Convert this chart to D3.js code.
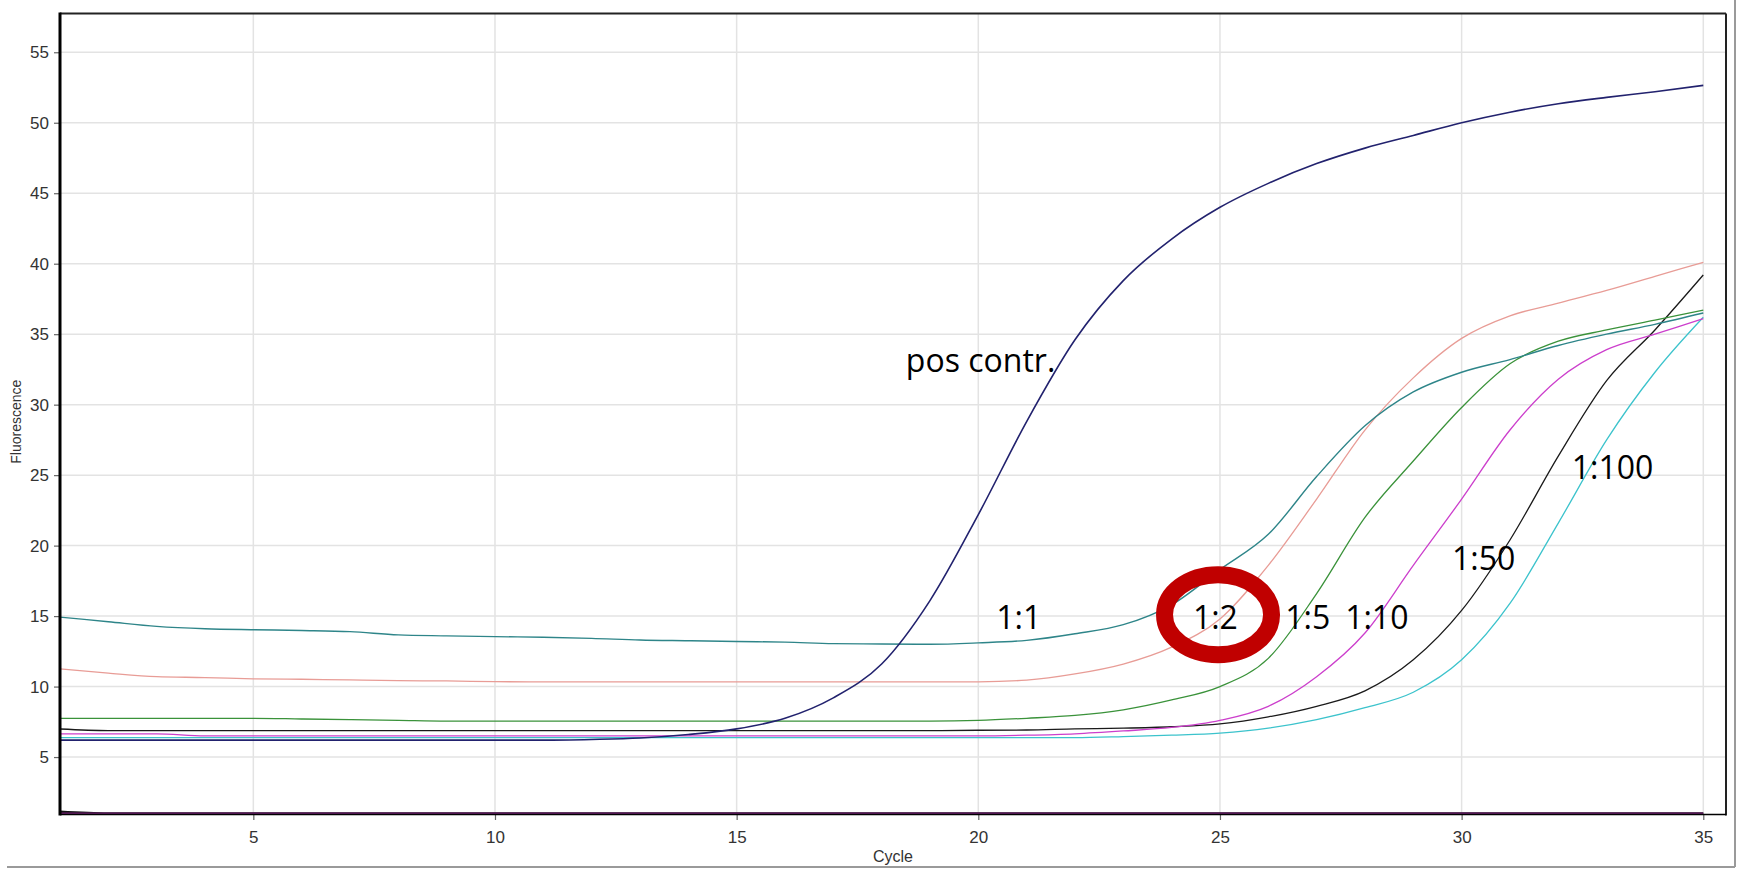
<!DOCTYPE html>
<html>
<head>
<meta charset="utf-8">
<script src="https://cdn.jsdelivr.net/npm/d3@7"></script>
<style>
  body { margin: 0; background: #ffffff; }
  svg { display: block; }
</style>
</head>
<body>
<svg class="chart" width="1739" height="869"></svg>
<script>
// qPCR amplification curves - dilution series

var cycles = [1,2,3,4,5,6,7,8,9,10,11,12,13,14,15,16,17,18,19,20,21,22,23,24,25,26,27,28,29,30,31,32,33,34,35];

var posContr = [6.2,6.2,6.2,6.2,6.2,6.2,6.2,6.2,6.2,6.2,6.2,6.25,6.35,6.6,7.0,7.75,9.2,11.6,16.1,22.2,28.8,34.6,38.8,41.75,44.0,45.7,47.1,48.2,49.1,50.0,50.75,51.35,51.8,52.2,52.65];
var dil1_1 = [14.93,14.6,14.27,14.1,14.03,13.98,13.9,13.67,13.6,13.54,13.5,13.42,13.3,13.25,13.2,13.15,13.05,13.02,13.0,13.1,13.28,13.75,14.39,15.8,18.3,20.8,24.9,28.5,30.9,32.3,33.2,34.2,35.0,35.7,36.5];
var dil1_2 = [11.26,10.95,10.7,10.64,10.55,10.52,10.47,10.42,10.4,10.35,10.33,10.33,10.33,10.33,10.33,10.33,10.33,10.33,10.33,10.34,10.46,10.9,11.6,12.8,14.8,18.6,23.3,28.2,31.9,34.7,36.3,37.2,38.1,39.1,40.1];
var dil1_5 = [7.75,7.75,7.75,7.75,7.75,7.7,7.65,7.6,7.55,7.55,7.55,7.55,7.55,7.55,7.55,7.55,7.55,7.55,7.55,7.6,7.75,7.95,8.35,9.05,10.0,12.0,16.6,22.0,26.0,29.8,32.9,34.5,35.3,36.0,36.7];
var dil1_10 = [6.64,6.64,6.64,6.5,6.5,6.5,6.5,6.5,6.5,6.5,6.5,6.5,6.5,6.5,6.5,6.5,6.5,6.5,6.5,6.5,6.55,6.65,6.85,7.1,7.6,8.6,10.7,13.8,18.6,23.3,28.2,31.8,33.9,35.0,36.1];
var dil1_50 = [6.99,6.88,6.88,6.88,6.88,6.88,6.88,6.88,6.88,6.88,6.88,6.88,6.88,6.88,6.88,6.88,6.88,6.88,6.88,6.9,6.92,7.0,7.05,7.15,7.35,7.85,8.6,9.7,11.9,15.4,20.4,26.35,31.7,35.3,39.2];
var dil1_100 = [6.38,6.38,6.38,6.38,6.38,6.38,6.38,6.38,6.38,6.38,6.38,6.38,6.38,6.38,6.38,6.38,6.38,6.38,6.38,6.38,6.38,6.38,6.45,6.55,6.7,7.05,7.65,8.5,9.6,11.9,15.9,21.6,27.5,32.3,36.2];
var negBlank = [1.12,1.0,1.0,1.0,1.0,1.0,1.0,1.0,1.0,1.0,1.0,1.0,1.0,1.0,1.0,1.0,1.0,1.0,1.0,1.0,1.0,1.0,1.0,1.0,1.0,1.0,1.0,1.0,1.0,1.0,1.0,1.0,1.0,1.0,1.0];
var negCtrl = [1.0,1.0,1.0,1.0,1.0,1.0,1.0,1.0,1.0,1.0,1.0,1.0,1.0,1.0,1.0,1.0,1.0,1.0,1.0,1.0,1.0,1.0,1.0,1.0,1.0,1.0,1.0,1.0,1.0,1.0,1.0,1.0,1.0,1.0,1.0];

var xTicks = [5, 10, 15, 20, 25, 30, 35];
var yTicks = [5, 10, 15, 20, 25, 30, 35, 40, 45, 50, 55];

// annotation text, anchored in (cycle, fluorescence)
var labelText = ["pos contr.", "1:1", "1:2", "1:5", "1:10", "1:50", "1:100"];
var labelCycle = [18.5, 20.37, 24.44, 26.35, 27.59, 29.8, 32.28];
var labelValue = [32.3, 14.08, 14.08, 14.08, 14.08, 18.28, 24.74];

var series = [
    { name: "neg blank", values: negBlank, color: "#111111", width: 2.5 },
    { name: "neg", values: negCtrl, color: "#6e1f6e", width: 2 },
    { name: "1:100", values: dil1_100, color: "#3cc3cc", width: 1.3 },
    { name: "1:50", values: dil1_50, color: "#1a1a1a", width: 1.3 },
    { name: "1:10", values: dil1_10, color: "#cc3fcc", width: 1.3 },
    { name: "1:5", values: dil1_5, color: "#3a923a", width: 1.3 },
    { name: "1:2", values: dil1_2, color: "#e89c96", width: 1.3 },
    { name: "1:1", values: dil1_1, color: "#2e8589", width: 1.4 },
    { name: "pos contr.", values: posContr, color: "#22226e", width: 1.6 }
];

var svg = d3.select(".chart");

var plot = { left: 60, right: 1726, top: 13.5, bottom: 814 };

var x = d3.scaleLinear()
    .domain([1, 35.47])
    .range([plot.left, plot.right]);

var y = d3.scaleLinear()
    .domain([0.96, 57.75])
    .range([plot.bottom, plot.top]);

// outer window frame (right + bottom)
svg.append("line")
    .attr("x1", 1735).attr("x2", 1735)
    .attr("y1", 0).attr("y2", 867)
    .attr("stroke", "#9a9a9a").attr("stroke-width", 2);
svg.append("line")
    .attr("x1", 7).attr("x2", 1735)
    .attr("y1", 867).attr("y2", 867)
    .attr("stroke", "#9a9a9a").attr("stroke-width", 2);

// grid
svg.selectAll(".grid-x")
    .data(xTicks)
    .enter().append("line")
    .attr("class", "grid-x")
    .attr("x1", d => x(d)).attr("x2", d => x(d))
    .attr("y1", plot.top).attr("y2", plot.bottom)
    .attr("stroke", "#e3e3e3")
    .attr("stroke-width", 1.5);

svg.selectAll(".grid-y")
    .data(yTicks)
    .enter().append("line")
    .attr("class", "grid-y")
    .attr("x1", plot.left).attr("x2", plot.right)
    .attr("y1", d => y(d)).attr("y2", d => y(d))
    .attr("stroke", "#e3e3e3")
    .attr("stroke-width", 1.5);

// axes
var yAxis = svg.append("g")
    .attr("transform", "translate(" + plot.left + ",0)")
    .call(d3.axisLeft(y).tickValues(yTicks).tickSize(6).tickPadding(5));

var xAxis = svg.append("g")
    .attr("transform", "translate(0," + plot.bottom + ")")
    .call(d3.axisBottom(x).tickValues(xTicks).tickSize(6).tickPadding(11));

[xAxis, yAxis].forEach(function (g) {
    g.select(".domain").remove();
    g.selectAll(".tick line").attr("stroke", "#666").attr("stroke-width", 1.2);
    g.selectAll(".tick text")
        .attr("fill", "#333")
        .attr("font-family", "'Liberation Sans', Arial, sans-serif")
        .attr("font-size", "17px");
});

svg.append("text")
    .attr("transform", "translate(21," + ((plot.top + plot.bottom) / 2 + 8) + ") rotate(-90)")
    .attr("text-anchor", "middle")
    .attr("font-family", "'Liberation Sans', Arial, sans-serif")
    .attr("font-size", "14px")
    .attr("fill", "#333")
    .text("Fluorescence");

svg.append("text")
    .attr("x", (plot.left + plot.right) / 2)
    .attr("y", 862)
    .attr("text-anchor", "middle")
    .attr("font-family", "'Liberation Sans', Arial, sans-serif")
    .attr("font-size", "16px")
    .attr("fill", "#333")
    .text("Cycle");

// curves
var line = d3.line()
    .x((d, i) => x(cycles[i]))
    .y(d => y(d))
    .curve(d3.curveMonotoneX);

svg.selectAll(".curve")
    .data(series)
    .enter().append("path")
    .attr("class", "curve")
    .attr("fill", "none")
    .attr("stroke", d => d.color)
    .attr("stroke-width", d => d.width)
    .attr("stroke-linejoin", "round")
    .attr("d", d => line(d.values));

// plot frame
svg.append("line")
    .attr("x1", plot.left).attr("x2", plot.right)
    .attr("y1", plot.top).attr("y2", plot.top)
    .attr("stroke", "#222").attr("stroke-width", 2);
svg.append("line")
    .attr("x1", plot.right).attr("x2", plot.right)
    .attr("y1", plot.top).attr("y2", plot.bottom + 1.5)
    .attr("stroke", "#222").attr("stroke-width", 2);
svg.append("line")
    .attr("x1", plot.left).attr("x2", plot.left)
    .attr("y1", plot.top - 1).attr("y2", plot.bottom + 1.5)
    .attr("stroke", "#000").attr("stroke-width", 3);
svg.append("line")
    .attr("x1", plot.left).attr("x2", plot.right)
    .attr("y1", plot.bottom + 0.5).attr("y2", plot.bottom + 0.5)
    .attr("stroke", "#000").attr("stroke-width", 1.5);

// annotations
svg.selectAll(".anno")
    .data(labelText)
    .enter().append("text")
    .attr("class", "anno")
    .attr("x", (d, i) => x(labelCycle[i]))
    .attr("y", (d, i) => y(labelValue[i]))
    .attr("font-family", "'Open Sans', sans-serif")
    .attr("font-size", "32px")
    .attr("fill", "#000")
    .text(d => d);

// red ring around 1:2
svg.append("ellipse")
    .attr("cx", x(24.96))
    .attr("cy", y(15.1))
    .attr("rx", 53.5)
    .attr("ry", 40)
    .attr("fill", "none")
    .attr("stroke", "#c00000")
    .attr("stroke-width", 17);
</script>
</body>
</html>
